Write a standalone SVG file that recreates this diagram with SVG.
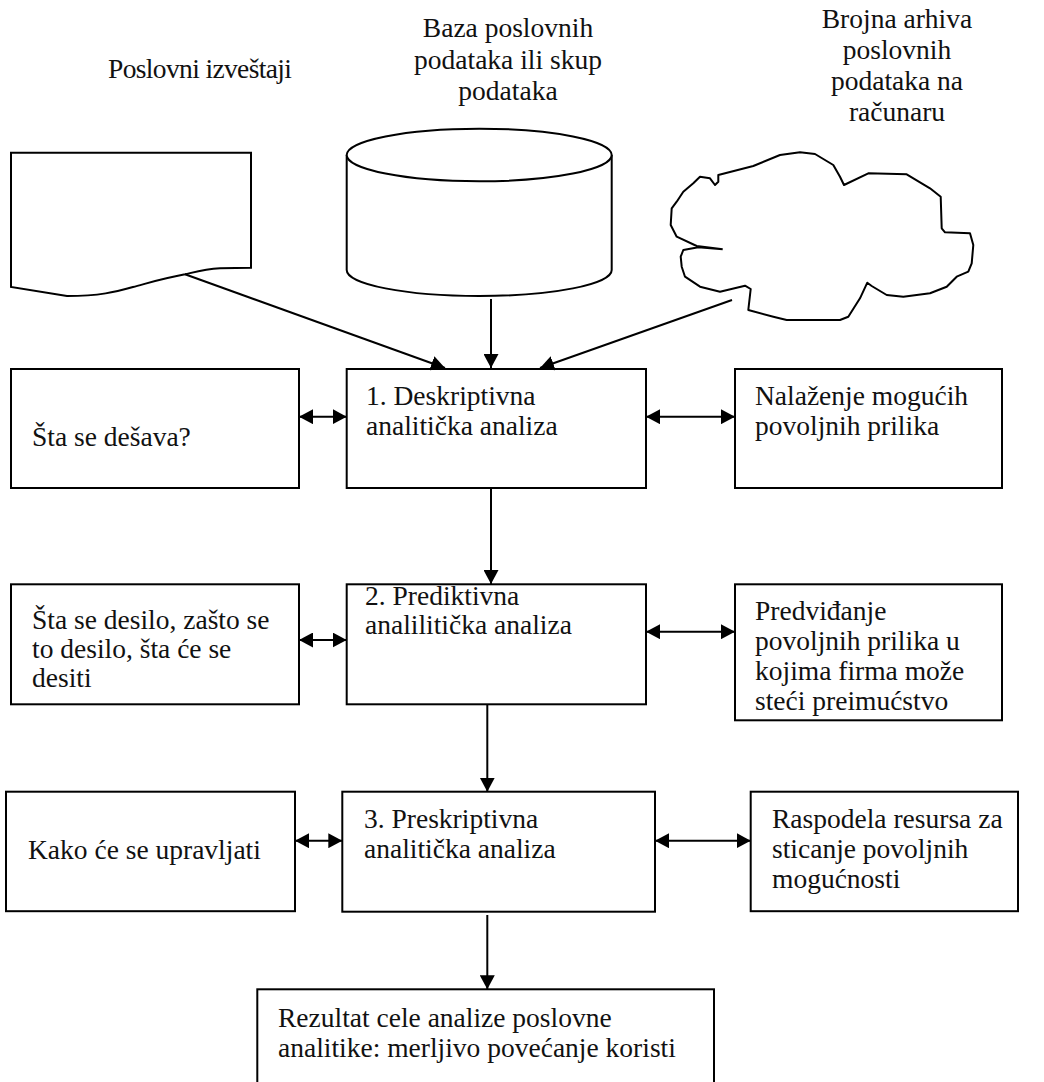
<svg xmlns="http://www.w3.org/2000/svg" width="1044" height="1082" viewBox="0 0 1044 1082">
  <style>
    .shape { fill: #ffffff; stroke: #000000; stroke-width: 2; }
    .cloud { fill: #ffffff; stroke: #000000; stroke-width: 2; stroke-linejoin: round; }
    .link { fill: none; stroke: #000000; stroke-width: 2; }
    .txt { font-family: "Liberation Serif", "Times New Roman", serif; font-size: 27.5px; fill: #111111; }
    .mid { text-anchor: middle; }
  </style>
  <defs>
    <marker id="head" markerUnits="userSpaceOnUse" markerWidth="15" markerHeight="15" refX="14" refY="7.5" orient="auto-start-reverse">
      <path d="M0,0 L14,7.5 L0,15 Z" fill="#000000"/>
    </marker>
  </defs>

  <!-- data sources -->
  <g id="poslovni-izvestaji">
    <path class="shape" d="M11,152.7 H251 V267.7 L220,268.3 C205,269 195,272 185,274.3 C160,279 145,284 133,287 C115,292 100,296 67,296 L11,287 Z"/>
    <text class="txt" x="108" y="78" textLength="184">Poslovni izveštaji</text>
  </g>

  <g id="baza-podataka">
    <path class="shape" d="M346.7,155 V270 A132.5,26 0 0 0 611.7,270 V155"/>
    <ellipse class="shape" cx="479.2" cy="155" rx="132.5" ry="26.3"/>
    <text class="txt mid" x="508" y="37">Baza poslovnih</text>
    <text class="txt mid" x="508" y="69">podataka ili skup</text>
    <text class="txt mid" x="508" y="100">podataka</text>
  </g>

  <g id="brojna-arhiva">
    <path class="cloud" d="M722.7,249.3 L698.3,247.3 L683.3,250 L680.7,256.7 L681.7,266.7 L685,276.7 L700,286.7 L720,291.7 L745,285.7 L750.7,289 L748.3,310 L773.3,316.7 L786.7,320 L840,320 L848.3,316.7 L860,298.3 L867.3,282.7 L871.7,286 L886.7,295 L903.3,296.7 L930,293.3 L946.7,286.7 L956.7,276.7 L968.3,271.7 L971.7,263.3 L973.3,245 L970,233.3 L945,232.3 L941.7,228.3 L940.7,196.7 L930,188.3 L906.7,174.3 L868.3,173.3 L844,185 L840,176.7 L833.3,165 L815,154 L800,152.3 L780,155 L753.3,166 L718.3,175 L718.3,181.7 L715,185 L710,178.3 L700,176.7 L693.3,183.3 L683.3,191.7 L676.7,201.7 L671.7,208.3 L670.7,225 L676.7,236.7 L696.7,246 L722.7,249.3"/>
    <text class="txt mid" x="897" y="28">Brojna arhiva</text>
    <text class="txt mid" x="897" y="59">poslovnih</text>
    <text class="txt mid" x="897" y="90">podataka na</text>
    <text class="txt mid" x="897" y="121">računaru</text>
  </g>

  <!-- row 1 -->
  <g id="sta-se-desava">
    <rect class="shape" x="11" y="369" width="288" height="119"/>
    <text class="txt" x="32" y="446">Šta se dešava?</text>
  </g>
  <g id="deskriptivna">
    <rect class="shape" x="346.7" y="369" width="299.3" height="119"/>
    <text class="txt" x="366" y="405">1. Deskriptivna</text>
    <text class="txt" x="366" y="435">analitička analiza</text>
  </g>
  <g id="nalazenje">
    <rect class="shape" x="735" y="369" width="267" height="119"/>
    <text class="txt" x="755" y="405">Nalaženje mogućih</text>
    <text class="txt" x="755" y="435">povoljnih prilika</text>
  </g>

  <!-- row 2 -->
  <g id="sta-se-desilo">
    <rect class="shape" x="11" y="584.3" width="288" height="120"/>
    <text class="txt" x="32" y="629">Šta se desilo, zašto se</text>
    <text class="txt" x="32" y="658">to desilo, šta će se</text>
    <text class="txt" x="32" y="687">desiti</text>
  </g>
  <g id="prediktivna">
    <rect class="shape" x="346.7" y="584.3" width="299.3" height="120"/>
    <text class="txt" x="365" y="605">2. Prediktivna</text>
    <text class="txt" x="365" y="634">analilitička analiza</text>
  </g>
  <g id="predvidjanje">
    <rect class="shape" x="735" y="584.3" width="267" height="136"/>
    <text class="txt" x="755" y="620">Predviđanje</text>
    <text class="txt" x="755" y="650">povoljnih prilika u</text>
    <text class="txt" x="755" y="680">kojima firma može</text>
    <text class="txt" x="755" y="710">steći preimućstvo</text>
  </g>

  <!-- row 3 -->
  <g id="kako-ce-se-upravljati">
    <rect class="shape" x="6" y="791.7" width="289" height="119.5"/>
    <text class="txt" x="28" y="859">Kako će se upravljati</text>
  </g>
  <g id="preskriptivna">
    <rect class="shape" x="342.3" y="791.7" width="312.7" height="120"/>
    <text class="txt" x="364" y="828">3. Preskriptivna</text>
    <text class="txt" x="364" y="858">analitička analiza</text>
  </g>
  <g id="raspodela">
    <rect class="shape" x="750.7" y="791.7" width="267.3" height="119.5"/>
    <text class="txt" x="772" y="828">Raspodela resursa za</text>
    <text class="txt" x="772" y="858">sticanje povoljnih</text>
    <text class="txt" x="772" y="888">mogućnosti</text>
  </g>

  <!-- outcome -->
  <g id="rezultat">
    <rect class="shape" x="257.3" y="989.3" width="456.7" height="100"/>
    <text class="txt" x="278" y="1027">Rezultat cele analize poslovne</text>
    <text class="txt" x="278" y="1057">analitike: merljivo povećanje koristi</text>
  </g>

  <!-- connectors -->
  <g id="connectors">
    <line class="link" x1="185" y1="274.3" x2="445" y2="368" marker-end="url(#head)"/>
    <line class="link" x1="491" y1="299" x2="491" y2="368" marker-end="url(#head)"/>
    <line class="link" x1="732" y1="300" x2="540" y2="368" marker-end="url(#head)"/>

    <line class="link" x1="299" y1="416.7" x2="346.7" y2="416.7" marker-start="url(#head)" marker-end="url(#head)"/>
    <line class="link" x1="646" y1="416.7" x2="735" y2="416.7" marker-start="url(#head)" marker-end="url(#head)"/>
    <line class="link" x1="491" y1="488" x2="491" y2="584" marker-end="url(#head)"/>

    <line class="link" x1="299" y1="640" x2="346.7" y2="640" marker-start="url(#head)" marker-end="url(#head)"/>
    <line class="link" x1="646" y1="631.7" x2="735" y2="631.7" marker-start="url(#head)" marker-end="url(#head)"/>
    <line class="link" x1="487.3" y1="704.3" x2="487.3" y2="791.7" marker-end="url(#head)"/>

    <line class="link" x1="295" y1="840.7" x2="342.3" y2="840.7" marker-start="url(#head)" marker-end="url(#head)"/>
    <line class="link" x1="655" y1="840.7" x2="750.7" y2="840.7" marker-start="url(#head)" marker-end="url(#head)"/>
    <line class="link" x1="487.3" y1="915" x2="487.3" y2="989.3" marker-end="url(#head)"/>
  </g>
</svg>
